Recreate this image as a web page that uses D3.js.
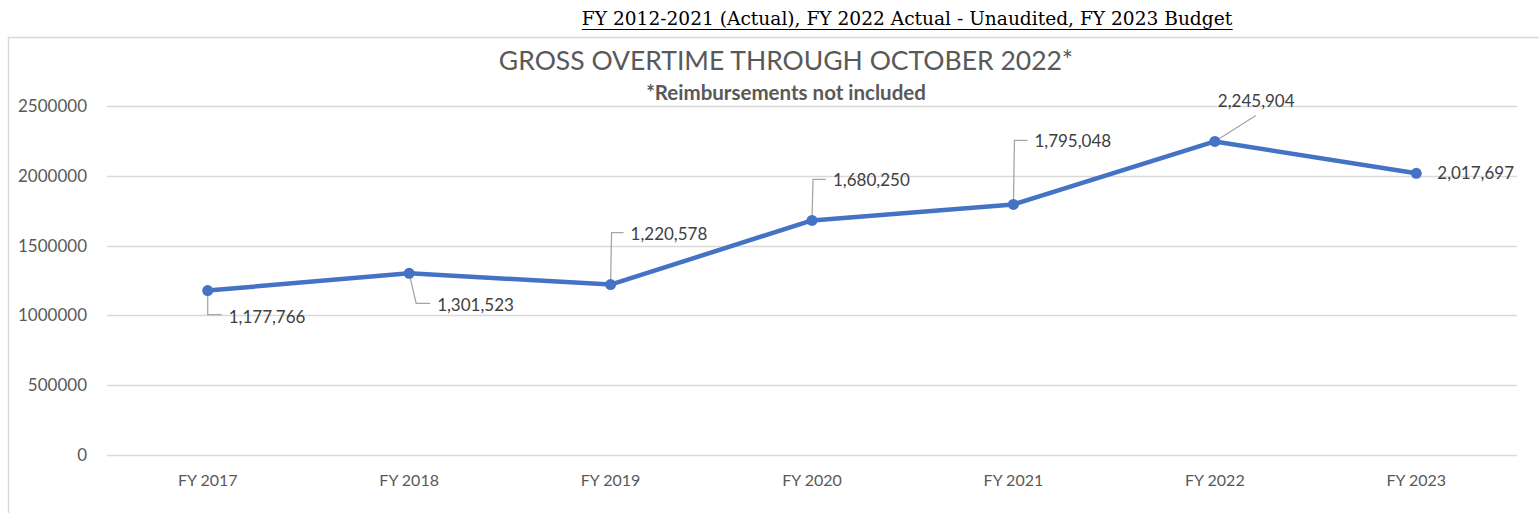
<!DOCTYPE html>
<html><head><meta charset="utf-8">
<script src="https://cdn.jsdelivr.net/npm/d3@7"></script>
<style>
body{margin:0;background:#fff;}
svg{display:block;}
</style></head>
<body>
<svg id="c" width="1539" height="513"></svg>
<script>
const categories = ["FY 2017","FY 2018","FY 2019","FY 2020","FY 2021","FY 2022","FY 2023"];
const values = [1177766,1301523,1220578,1680250,1795048,2245904,2017697];
const yTicks = [0,500000,1000000,1500000,2000000,2500000];
const topTitle = "FY 2012-2021 (Actual), FY 2022 Actual - Unaudited, FY 2023 Budget";
const chartTitle = "GROSS OVERTIME THROUGH OCTOBER 2022*";
const subTitle = "*Reimbursements not included";

// label layout: offset of label start relative to point, leader type
const labelLayout = [
  {dx:21, dy:26, leader:"elbowDown"},
  {dx:28, dy:32, leader:"elbowDown"},
  {dx:20, dy:-51, leader:"elbowUp"},
  {dx:21, dy:-40, leader:"elbowUp"},
  {dx:21, dy:-63, leader:"elbowUp"},
  {dx:3, dy:-40, leader:"diag"},
  {dx:21, dy:0, leader:"none"}
];

const svg = d3.select("#c");
const font = "Lato, 'Open Sans', sans-serif";
const grey = "#595959";

// outer chart border
svg.append("rect").attr("x",8.5).attr("y",37.5).attr("width",1560).attr("height",520)
  .attr("fill","none").attr("stroke","#d9d9d9").attr("stroke-width",1.5);

// top title
const tt = svg.append("text").attr("x",907).attr("y",25).attr("text-anchor","middle")
  .attr("font-family","'DejaVu Serif','Liberation Serif',serif").attr("font-size",18.6)
  .attr("fill","#000").text(topTitle);
const bb = tt.node().getBBox();
svg.append("line").attr("x1",bb.x).attr("x2",bb.x+bb.width).attr("y1",29.5).attr("y2",29.5)
  .attr("stroke","#000").attr("stroke-width",1.2);

svg.append("text").attr("x",786).attr("y",70).attr("text-anchor","middle")
  .attr("font-family",font).attr("font-size",26.5).attr("fill",grey).text(chartTitle);
svg.append("text").attr("x",786).attr("y",100).attr("text-anchor","middle")
  .attr("font-family",font).attr("font-size",20.5).attr("font-weight","bold").attr("fill",grey).text(subTitle);

const x = d3.scaleBand().domain(categories).range([107,1517]);
const y = d3.scaleLinear().domain([0,2500000]).range([455,106]);

// gridlines
svg.append("g").selectAll("line").data(yTicks).join("line")
  .attr("x1",107).attr("x2",1517).attr("y1",d=>Math.round(y(d))+0.5).attr("y2",d=>Math.round(y(d))+0.5)
  .attr("stroke","#d9d9d9").attr("stroke-width",1.3);

// y axis
const yAxis = svg.append("g").attr("transform","translate(107,0)")
  .call(d3.axisLeft(y).tickValues(yTicks).tickFormat(d3.format("d")).tickSize(0).tickPadding(20));
yAxis.select(".domain").remove();
yAxis.selectAll("text").attr("font-family",font).attr("font-size",17).attr("fill",grey);

// x axis
const xAxis = svg.append("g").attr("transform","translate(0,455)")
  .call(d3.axisBottom(x).tickSize(0).tickPadding(20));
xAxis.select(".domain").remove();
xAxis.selectAll("text").attr("font-family",font).attr("font-size",16).attr("fill",grey);

const cx = d => x(d) + x.bandwidth()/2;

// leader lines
const fmt = d3.format(",");
const lg = svg.append("g");
categories.forEach((c,i)=>{
  const px = cx(c), py = y(values[i]), L = labelLayout[i];
  const lx = px + L.dx, ly = py + L.dy;
  let pts = null;
  if (L.leader==="elbowDown") {
    const bx = px + (L.dx>24?7:0);
    pts = [[px,py],[bx,ly-2],[lx-7,ly-2]];
  }
  if (L.leader==="elbowUp") pts = [[px,py],[px+1,ly-1],[lx-7,ly-1]];
  if (L.leader==="diag") pts = [[px,py],[px+41,py-26]];
  if (pts) lg.append("path").attr("d",d3.line()(pts)).attr("fill","none").attr("stroke","#a6a6a6").attr("stroke-width",1.3);
});

// line
svg.append("path").datum(values).attr("d",d3.line().x((d,i)=>cx(categories[i])).y(d=>y(d)))
  .attr("fill","none").attr("stroke","#4472C4").attr("stroke-width",4.5).attr("stroke-linejoin","round");
svg.append("g").selectAll("circle").data(values).join("circle")
  .attr("cx",(d,i)=>cx(categories[i])).attr("cy",d=>y(d)).attr("r",5.5).attr("fill","#4472C4");

// labels
svg.append("g").selectAll("text").data(values).join("text")
  .attr("x",(d,i)=>cx(categories[i])+labelLayout[i].dx)
  .attr("y",(d,i)=>y(d)+labelLayout[i].dy)
  .attr("dy","0.35em")
  .attr("font-family",font).attr("font-size",17).attr("fill","#404040")
  .text(d=>fmt(d));
</script>
</body></html>
